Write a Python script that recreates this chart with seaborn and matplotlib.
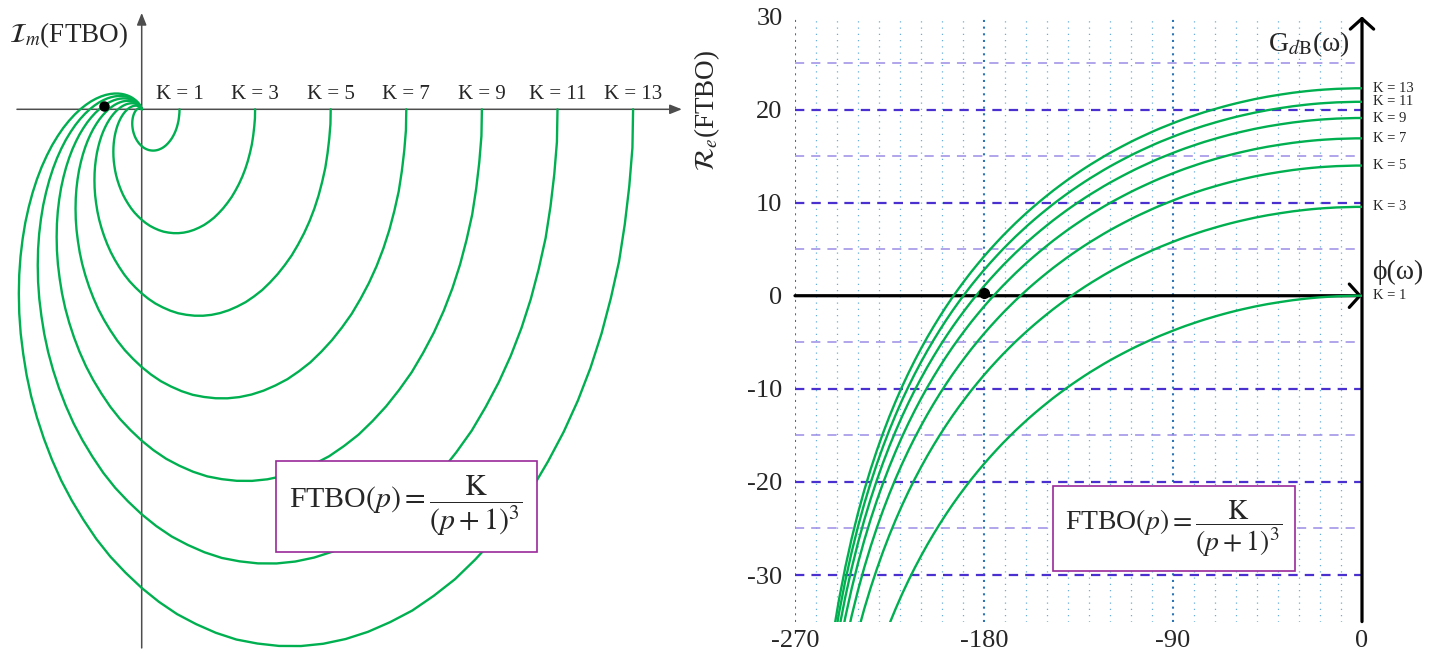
import numpy as np
import pandas as pd
import matplotlib
matplotlib.use("Agg")
import matplotlib.pyplot as plt
import seaborn as sns

# gains K of the open-loop transfer function FTBO(p) = K/(p+1)^3
K_VALUES = [1, 3, 5, 7, 9, 11, 13]

# Black plot of the K = 1 curve, read at the polyline vertices (every 3 degrees)
PHASE_DEG = list(range(0, -267, -3))
GAIN_DB_K1 = [0.00, -0.00, -0.02, -0.04, -0.06, -0.10, -0.14, -0.19, -0.25, -0.32,
              -0.40, -0.48, -0.58, -0.68, -0.79, -0.90, -1.03, -1.16, -1.31, -1.46,
              -1.62, -1.79, -1.97, -2.16, -2.36, -2.56, -2.78, -3.01, -3.24, -3.49,
              -3.75, -4.02, -4.29, -4.58, -4.89, -5.20, -5.52, -5.86, -6.21, -6.57,
              -6.94, -7.33, -7.74, -8.15, -8.58, -9.03, -9.49, -9.97, -10.47, -10.98,
              -11.52, -12.07, -12.64, -13.23, -13.85, -14.48, -15.15, -15.83, -16.55,
              -17.29, -18.06, -18.87, -19.70, -20.58, -21.49, -22.44, -23.44, -24.49,
              -25.59, -26.74, -27.96, -29.24, -30.60, -32.04, -33.58, -35.22, -36.98,
              -38.88, -40.93, -43.16, -45.62, -48.34, -51.39, -54.85, -58.85, -63.58,
              -69.38, -76.87, -87.43]

PHASE_TICKS = [-270, -180, -90, 0]
PHASE_TICK_LABELS = ["-270", "-180", "-90", "0"]
GAIN_TICKS = [30, 20, 10, 0, -10, -20, -30]
GAIN_TICK_LABELS = ["30", "20", "10", "0", "-10", "-20", "-30"]

CRIT_NYQ = (-1.0, 0.06)     # critical point on the Nyquist plane
CRIT_BLACK = (-180, 0.3)    # critical point on the Black plane

GREEN = "#00b050"
BOX_EDGE = "#9a2a9a"
FORMULA = r"FTBO$(p) = \dfrac{\mathrm{K}}{(p+1)^3}$"

sns.set_style("white")
plt.rcParams["font.family"] = ["Liberation Serif", "DejaVu Serif"]
plt.rcParams["mathtext.fontset"] = "stix"
plt.rcParams["axes.unicode_minus"] = False

rows = []
for k in K_VALUES:
    for ph, g in zip(PHASE_DEG, GAIN_DB_K1):
        gain = g + 20 * np.log10(k)
        mod = 10 ** (gain / 20)
        rows.append({"K": k, "phase": ph, "gain": gain,
                     "re": mod * np.cos(np.radians(ph)),
                     "im": mod * np.sin(np.radians(ph))})
df = pd.DataFrame(rows)

W, H = 1448, 657
fig = plt.figure(figsize=(W / 100, H / 100), dpi=100)

# ---------------- Nyquist plane ----------------
axL = fig.add_axes([0, 0, 700 / W, 1])
x0, y0, sx, sy = 141.7, 109.3, 37.8, 56.7
axL.set_xlim(-x0 / sx, (700 - x0) / sx)
axL.set_ylim(-(H - y0) / sy, y0 / sy)

arrow_l = dict(arrowstyle="-|>,head_length=0.45,head_width=0.18", color="#4d4d4d",
               lw=1.1, mutation_scale=16, shrinkA=0, shrinkB=0)
axL.annotate("", xy=(14.29, 0), xytext=(-3.30, 0), arrowprops=arrow_l, zorder=1)
axL.annotate("", xy=(0, 1.70), xytext=(0, -9.50), arrowprops=arrow_l, zorder=1)

sns.lineplot(data=df, x="re", y="im", units="K", estimator=None, sort=False,
             color=GREEN, lw=1.7, ax=axL, legend=False, zorder=2)
axL.plot(*CRIT_NYQ, "o", color="black", ms=6.5, zorder=4)

for k in K_VALUES:
    axL.text(k, 0.26, f"K = {k}", ha="center", va="center", fontsize=15)

axL.text(-0.36, 1.31, r"$\mathcal{I}_m$(FTBO)", ha="right", va="center", fontsize=19.5)
axL.text(7.0, -7.0, FORMULA, ha="center", va="center", fontsize=21.5, zorder=5,
         bbox=dict(boxstyle="square,pad=0.45", fc="white", ec=BOX_EDGE, lw=1.2))
axL.axis("off")

fig.text(707 / W, 1 - 110 / H, r"$\mathcal{R}_e$(FTBO)", rotation=90,
         ha="center", va="center", fontsize=19.5)

# ---------------- Black plane ----------------
top_px, bot_px = 16.4, 621.6
axR = fig.add_axes([795 / W, (H - bot_px) / H, 567 / W, (bot_px - top_px) / H])
axR.set_xlim(-270, 0)
axR.set_ylim(-35, 30)

for p in range(-270, 0, 10):
    if p in (-270, -180, -90):
        axR.axvline(p, color="#2e75b6", lw=1.5, ls=(0, (1, 2.2)), zorder=1)
    else:
        axR.axvline(p, color="#6aafdc", lw=0.9, ls=(0, (1, 4.0)), zorder=1)
for g in range(-30, 30, 5):
    if g == 0:
        continue
    if g % 10 == 0:
        axR.axhline(g, color="#4b30d0", lw=1.6, ls=(0, (4.2, 3.2)), zorder=1)
    else:
        axR.axhline(g, color="#9d8de6", lw=1.1, ls=(0, (6, 4.6)), zorder=1)

arrow_r = dict(arrowstyle="->,head_length=0.38,head_width=0.42", color="black",
               lw=2.3, mutation_scale=20, shrinkA=0, shrinkB=0)
axR.annotate("", xy=(0, 0), xytext=(-270, 0), arrowprops=arrow_r, zorder=2,
             annotation_clip=False)
axR.annotate("", xy=(0, 30), xytext=(0, -35), arrowprops=arrow_r, zorder=2,
             annotation_clip=False)

sns.lineplot(data=df, x="phase", y="gain", units="K", estimator=None, sort=False,
             color=GREEN, lw=1.7, ax=axR, legend=False, zorder=3)
axR.plot(*CRIT_BLACK, "o", color="black", ms=7, zorder=4)

for k in K_VALUES:
    axR.text(5, GAIN_DB_K1[0] + 20 * np.log10(k), f"K = {k}", ha="left",
             va="center", fontsize=10.5, clip_on=False)

axR.text(-5.7, 27, r"G$_{d\mathrm{B}}$(ω)", ha="right", va="center", fontsize=20)
axR.text(5, 2.5, "ϕ(ω)", ha="left", va="center", fontsize=20, clip_on=False)
axR.text(-89.5, -25, FORMULA, ha="center", va="center", fontsize=20, zorder=5,
         bbox=dict(boxstyle="square,pad=0.45", fc="white", ec=BOX_EDGE, lw=1.2))

axR.set_xticks(PHASE_TICKS)
axR.set_xticklabels(PHASE_TICK_LABELS)
axR.set_yticks(GAIN_TICKS)
axR.set_yticklabels(GAIN_TICK_LABELS)
axR.tick_params(axis="x", length=0, labelsize=19, pad=6)
axR.tick_params(axis="y", length=0, labelsize=19, pad=9)
axR.set_xlabel("")
axR.set_ylabel("")
for s in axR.spines.values():
    s.set_visible(False)
axR.set_facecolor("none")

fig.savefig("out.png", dpi=100, facecolor="white")
